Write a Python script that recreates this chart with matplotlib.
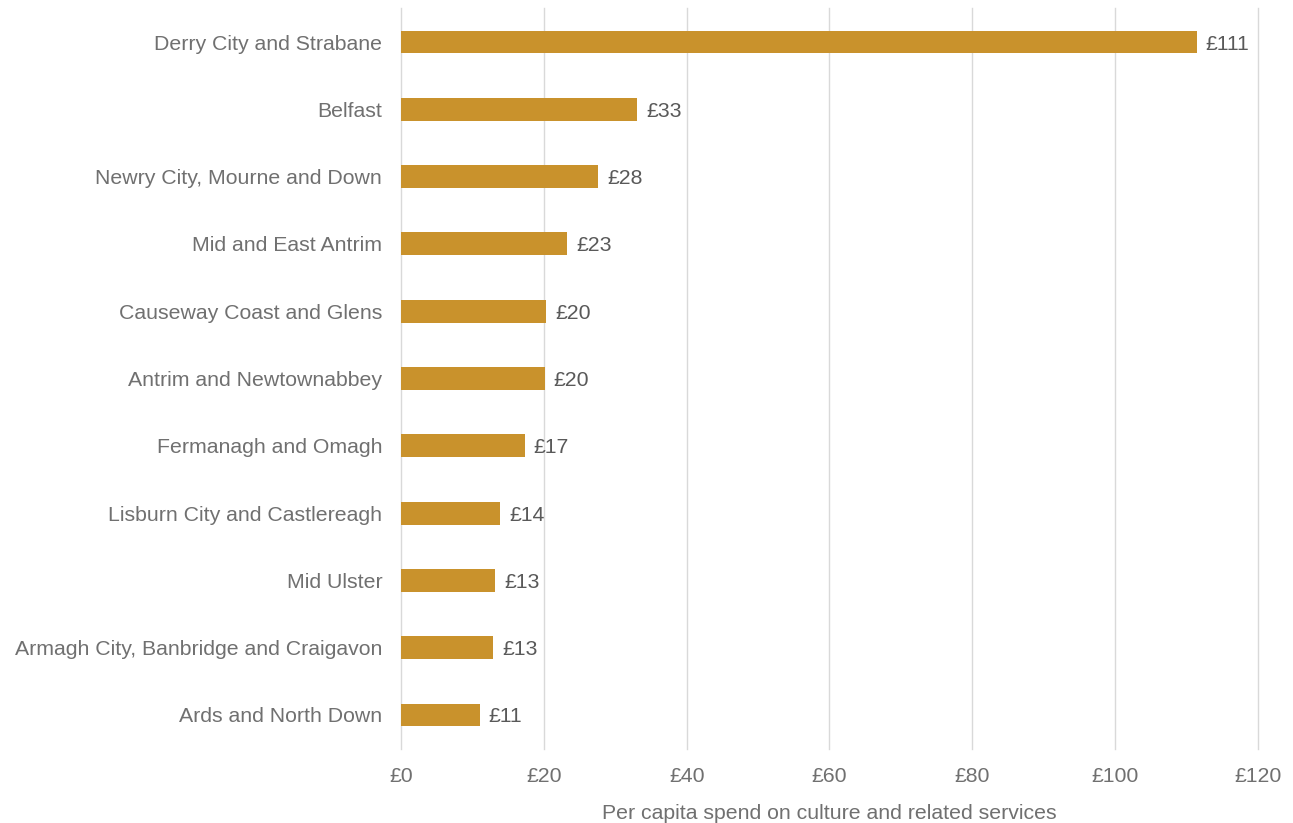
import matplotlib.pyplot as plt
from matplotlib.ticker import FuncFormatter

plt.rcParams['font.family'] = ['Liberation Sans', 'DejaVu Sans']

councils = [
    "Derry City and Strabane",
    "Belfast",
    "Newry City, Mourne and Down",
    "Mid and East Antrim",
    "Causeway Coast and Glens",
    "Antrim and Newtownabbey",
    "Fermanagh and Omagh",
    "Lisburn City and Castlereagh",
    "Mid Ulster",
    "Armagh City, Banbridge and Craigavon",
    "Ards and North Down",
]
spend = [111.4, 33.1, 27.6, 23.3, 20.3, 20.1, 17.3, 13.9, 13.2, 12.9, 11.0]
ticks = [0, 20, 40, 60, 80, 100, 120]

bar_col = "#C9922C"
grid_col = "#D9D9D9"
label_col = "#707070"
value_col = "#595959"
fs = 15.3

fig = plt.figure(figsize=(12.93, 8.23), dpi=100)
ax = fig.add_axes([0.3101, 0.0904, 0.6628, 0.8994])

ypos = list(range(len(councils)))
ax.barh(ypos, spend, height=0.34, color=bar_col, zorder=3)

for y, v in zip(ypos, spend):
    ax.annotate(f"£{v:.0f}", (v, y), xytext=(6.5, 0), textcoords="offset points",
                va="center_baseline", ha="left", fontsize=fs, color=value_col)

ax.set_xlim(0, 120)
ax.set_ylim(len(councils) - 0.5, -0.5)
ax.set_yticks(ypos)
ax.set_yticklabels(councils, va="center_baseline")
ax.set_xticks(ticks)
ax.xaxis.set_major_formatter(FuncFormatter(lambda x, _: f"£{x:.0f}"))

ax.grid(axis="x", color=grid_col, linewidth=1, zorder=0)
for gl in ax.get_xgridlines():
    gl.set_clip_on(False)
for s in ax.spines.values():
    s.set_visible(False)
ax.tick_params(axis="both", length=0, labelsize=fs, colors=label_col)
ax.tick_params(axis="y", pad=13.5)
ax.tick_params(axis="x", pad=13)

ax.set_xlabel("Per capita spend on culture and related services",
              fontsize=fs, color=label_col, labelpad=13)

fig.savefig("out.png", dpi=100)
